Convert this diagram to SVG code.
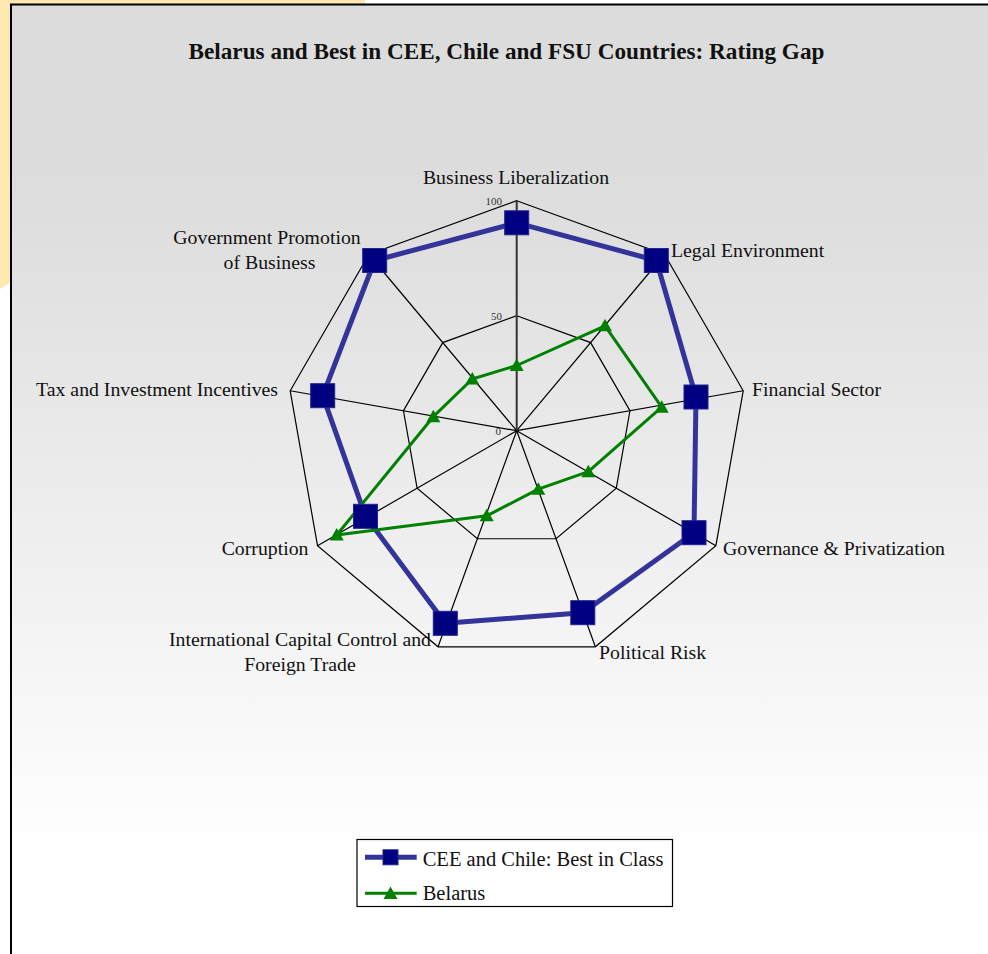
<svg xmlns="http://www.w3.org/2000/svg" width="988" height="954" viewBox="0 0 988 954">
<defs>
<linearGradient id="bg" x1="0" y1="0" x2="0" y2="1">
<stop offset="0" stop-color="#dcdcdc"/>
<stop offset="0.2" stop-color="#dddddd"/>
<stop offset="0.5" stop-color="#ececec"/>
<stop offset="0.88" stop-color="#ffffff"/>
<stop offset="1" stop-color="#ffffff"/>
</linearGradient>
<rect id="sq" x="-12" y="-12" width="24" height="24"/>
<rect id="sqs" x="-7.5" y="-7.5" width="15" height="15"/>
<polygon id="tri" points="0,-7 7,5.5 -7,5.5"/>
</defs>
<style>
.lbl{font-family:"Liberation Serif","Times New Roman",serif;font-size:19.8px;fill:#111}
.title{font-family:"Liberation Serif","Times New Roman",serif;font-size:23.2px;font-weight:bold;fill:#111}
.tick{font-family:"Liberation Serif","Times New Roman",serif;font-size:11px;fill:#333}
.leg{font-family:"Liberation Serif","Times New Roman",serif;font-size:20.5px;fill:#111}
.grid{fill:none;stroke:#000;stroke-width:1.2}
.cee{fill:none;stroke:#333399;stroke-width:5;stroke-linejoin:round}
.bel{fill:none;stroke:#008000;stroke-width:3;stroke-linejoin:round}
.sqm{fill:#000080;stroke:#22228a;stroke-width:1}
.trm{fill:#008000}
</style>
<rect x="0" y="0" width="988" height="954" fill="#ffffff"/>
<polygon points="0,0 365,0 365,5 11,5 11,282 0,289" fill="#ffe7b0"/>
<rect x="11" y="4.5" width="990" height="965" fill="url(#bg)" stroke="#000" stroke-width="2"/>
<text class="title" x="506.5" y="58.5" text-anchor="middle">Belarus and Best in CEE, Chile and FSU Countries: Rating Gap</text>

<g id="grid">
<polygon class="grid" points="516.7,200.7 664.54,254.51 743.21,390.76 715.89,545.7 595.36,646.83 438.04,646.83 317.51,545.7 290.19,390.76 368.86,254.51"/>
<polygon class="grid" points="516.7,315.7 590.62,342.61 629.95,410.73 616.29,488.2 556.03,538.76 477.37,538.76 417.11,488.2 403.45,410.73 442.78,342.61"/>
<path class="grid" d="M516.7,430.7 L664.54,254.51 M516.7,430.7 L743.21,390.76 M516.7,430.7 L715.89,545.7 M516.7,430.7 L595.36,646.83 M516.7,430.7 L438.04,646.83 M516.7,430.7 L317.51,545.7 M516.7,430.7 L290.19,390.76 M516.7,430.7 L368.86,254.51"/>
<line x1="516.7" y1="430.7" x2="516.7" y2="200.7" stroke="#333" stroke-width="2"/>
<text class="tick" x="502" y="205" text-anchor="end">100</text>
<text class="tick" x="502" y="320" text-anchor="end">50</text>
<text class="tick" x="501" y="435" text-anchor="end">0</text>
</g>

<g id="connectors">
<polygon id="cee-line" class="cee" points="516.7,222.8 656.3,260.5 696,397 694,532.7 582.8,612.7 445.3,623.3 365.5,516.3 322.7,395.7 374.7,260.5"/>
<polygon id="bel-line" class="bel" points="516.7,365.5 605,325.8 661.7,407.2 588.3,471.7 538.3,489.2 486.7,515.8 336.7,535 433.3,416.7 472.3,379"/>
</g>

<g id="cee-markers">
<use href="#sq" class="sqm" x="516.7" y="222.8"/>
<use href="#sq" class="sqm" x="656.3" y="260.5"/>
<use href="#sq" class="sqm" x="696" y="397"/>
<use href="#sq" class="sqm" x="694" y="532.7"/>
<use href="#sq" class="sqm" x="582.8" y="612.7"/>
<use href="#sq" class="sqm" x="445.3" y="623.3"/>
<use href="#sq" class="sqm" x="365.5" y="516.3"/>
<use href="#sq" class="sqm" x="322.7" y="395.7"/>
<use href="#sq" class="sqm" x="374.7" y="260.5"/>
</g>
<g id="bel-markers">
<use href="#tri" class="trm" x="516.7" y="365.5"/>
<use href="#tri" class="trm" x="605" y="325.8"/>
<use href="#tri" class="trm" x="661.7" y="407.2"/>
<use href="#tri" class="trm" x="588.3" y="471.7"/>
<use href="#tri" class="trm" x="538.3" y="489.2"/>
<use href="#tri" class="trm" x="486.7" y="515.8"/>
<use href="#tri" class="trm" x="336.7" y="535"/>
<use href="#tri" class="trm" x="433.3" y="416.7"/>
<use href="#tri" class="trm" x="472.3" y="379"/>
</g>

<g id="axis-business-liberalization"><text class="lbl" x="516" y="184" text-anchor="middle">Business Liberalization</text></g>
<g id="axis-legal-environment"><text class="lbl" x="671" y="257">Legal Environment</text></g>
<g id="axis-financial-sector"><text class="lbl" x="752" y="396">Financial Sector</text></g>
<g id="axis-governance"><text class="lbl" x="723" y="554.5">Governance &amp; Privatization</text></g>
<g id="axis-political-risk"><text class="lbl" x="599" y="658.5">Political Risk</text></g>
<g id="axis-international-capital"><text class="lbl" x="300" y="645.5" text-anchor="middle">International Capital Control and</text><text class="lbl" x="300" y="671" text-anchor="middle">Foreign Trade</text></g>
<g id="axis-corruption"><text class="lbl" x="308.5" y="554.5" text-anchor="end">Corruption</text></g>
<g id="axis-tax"><text class="lbl" x="278" y="395.5" text-anchor="end">Tax and Investment Incentives</text></g>
<g id="axis-government-promotion"><text class="lbl" x="267" y="243.5" text-anchor="middle">Government Promotion</text><text class="lbl" x="269.5" y="268.5" text-anchor="middle">of Business</text></g>

<g id="legend">
<rect x="357" y="839.5" width="315.5" height="67" fill="#fff" stroke="#000" stroke-width="1.2"/>
<line x1="365" y1="857.3" x2="416.7" y2="857.3" stroke="#333399" stroke-width="5"/>
<use href="#sqs" class="sqm" x="390.5" y="857.3"/>
<text class="leg" x="422.7" y="865.7">CEE and Chile: Best in Class</text>
<line x1="365" y1="893.3" x2="416.7" y2="893.3" stroke="#008000" stroke-width="3"/>
<use href="#tri" class="trm" x="390.5" y="893.5"/>
<text class="leg" x="422.7" y="900">Belarus</text>
</g>
</svg>
